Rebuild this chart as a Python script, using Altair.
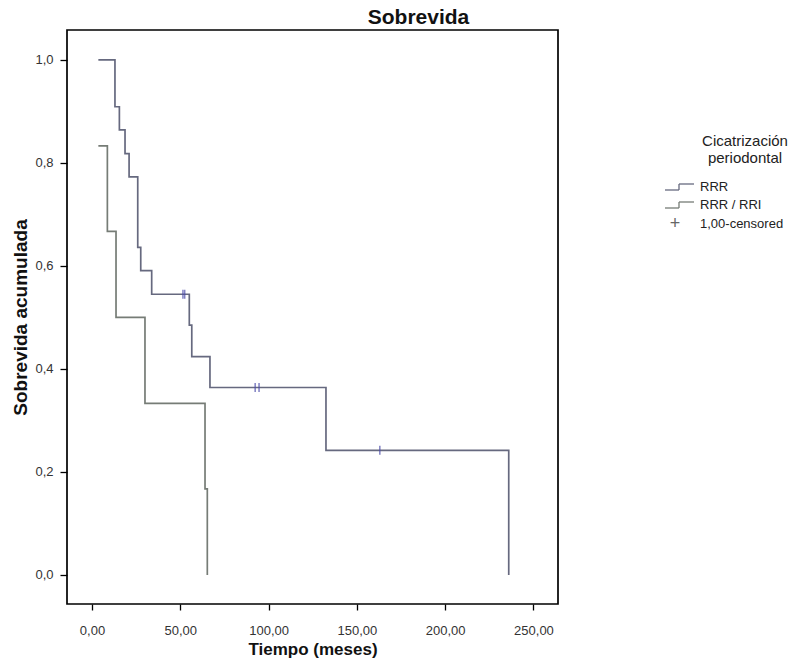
import altair as alt
import pandas as pd

# ---------------- data ----------------
groups = ["RRR", "RRR / RRI"]

rrr_time = [3.6, 13.0, 15.5, 18.7, 21.0, 25.9, 27.6, 33.8, 55.1, 56.5, 66.8, 132.5, 236.0]
rrr_surv = [1.0, 0.909, 0.864, 0.818, 0.773, 0.636, 0.591, 0.545, 0.485, 0.424, 0.364, 0.242, 0.0]

rri_time = [3.6, 8.7, 13.6, 30.0, 64.0, 65.3]
rri_surv = [0.833, 0.667, 0.5, 0.333, 0.167, 0.0]

cens_time = [51.5, 52.5, 92.4, 94.6, 163.0]
cens_surv = [0.545, 0.545, 0.364, 0.364, 0.242]

x_ticks = [0, 50, 100, 150, 200, 250]
y_ticks = [0.0, 0.2, 0.4, 0.6, 0.8, 1.0]

legend_title = ["Cicatrización", "periodontal"]
legend_labels = ["RRR", "RRR / RRI", "1,00-censored"]

line_colors = ["#66697f", "#767c76"]
cens_color = "#4a4aa8"
FONT = "Liberation Sans"

# ---------------- tables ----------------
df = pd.concat([
    pd.DataFrame({"t": rrr_time, "s": rrr_surv, "g": groups[0]}),
    pd.DataFrame({"t": rri_time, "s": rri_surv, "g": groups[1]}),
], ignore_index=True)
cdf = pd.DataFrame({"t": cens_time, "s": cens_surv})
dummy = pd.DataFrame({"a": [0]})

W, H = 491, 574
xs = alt.Scale(domain=[-14.16, 263.9], nice=False, zero=False)
ys = alt.Scale(domain=[-0.0563, 1.058], nice=False, zero=False)

common_axis = dict(grid=False, domain=False, tickColor="black", tickWidth=1.3,
                   labelFont=FONT, labelColor="#333333", titleFont=FONT,
                   titleFontWeight="bold", titleColor="#111111")

xaxis = alt.Axis(values=x_ticks, labelExpr="replace(format(datum.value, '.2f'), '.', ',')",
                 title="Tiempo (meses)", tickSize=6, labelPadding=14, labelFontSize=13,
                 titleFontSize=17, titlePadding=4, **common_axis)
yaxis = alt.Axis(values=y_ticks, labelExpr="replace(format(datum.value, '.1f'), '.', ',')",
                 title="Sobrevida acumulada", tickSize=7, labelPadding=7, labelFontSize=13,
                 titleFontSize=19, titlePadding=4, **common_axis)

lines = alt.Chart(df).mark_line(interpolate="step-after", strokeWidth=1.7).encode(
    x=alt.X("t:Q", scale=xs, axis=xaxis),
    y=alt.Y("s:Q", scale=ys, axis=yaxis),
    color=alt.Color("g:N", scale=alt.Scale(domain=groups, range=line_colors), legend=None),
    detail="g:N",
)

cens = alt.Chart(cdf).mark_tick(orient="vertical", size=9, thickness=1.5, color=cens_color).encode(
    x=alt.X("t:Q", scale=xs),
    y=alt.Y("s:Q", scale=ys),
)

# ---------------- manual legend (pixel positions relative to plot area) ----------------
LX = 598  # left of the step symbol
layers = []
for i, line in enumerate(legend_title):
    layers.append(alt.Chart(dummy).mark_text(
        text=line, font=FONT, fontSize=15, align="center", baseline="middle", color="#222222"
    ).encode(x=alt.value(678), y=alt.value(111 + i * 17)))

sym_y = [157, 175]
for i, g in enumerate(groups):
    yl, yu = sym_y[i] + 3, sym_y[i] - 3
    c = line_colors[i]
    base = alt.Chart(dummy)
    layers.append(base.mark_rule(color=c, strokeWidth=1.3).encode(
        x=alt.value(LX), x2=alt.value(LX + 14), y=alt.value(yl)))
    layers.append(base.mark_rule(color=c, strokeWidth=1.3).encode(
        x=alt.value(LX + 14), y=alt.value(yu), y2=alt.value(yl)))
    layers.append(base.mark_rule(color=c, strokeWidth=1.3).encode(
        x=alt.value(LX + 14), x2=alt.value(LX + 29), y=alt.value(yu)))
    layers.append(base.mark_text(
        text=legend_labels[i], font=FONT, fontSize=13, align="left", baseline="middle", color="#222222"
    ).encode(x=alt.value(LX + 35), y=alt.value(sym_y[i])))

# censored entry
layers.append(alt.Chart(dummy).mark_text(
    text="+", font=FONT, fontSize=18, align="center", baseline="middle", color="#666666"
).encode(x=alt.value(LX + 10), y=alt.value(194)))
layers.append(alt.Chart(dummy).mark_text(
    text=legend_labels[2], font=FONT, fontSize=13, align="left", baseline="middle", color="#222222"
).encode(x=alt.value(LX + 35), y=alt.value(194)))

chart = alt.layer(lines, cens, *layers).properties(
    width=W, height=H,
    title=alt.Title("Sobrevida", font=FONT, fontSize=21, fontWeight="bold", anchor="middle",
                    dx=106, offset=2, color="#111111"),
    padding={"left": 67, "top": 30, "right": 240, "bottom": 57},
    autosize=alt.AutoSizeParams(type="none"),
).configure_view(stroke="black", strokeWidth=1.7)

chart.save("out.html", embed_options={"renderer": "svg", "actions": False})
